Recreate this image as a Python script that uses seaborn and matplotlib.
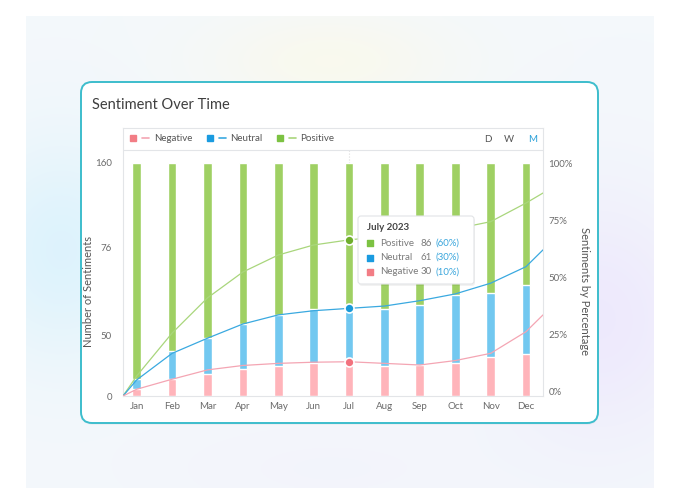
import numpy as np
import pandas as pd
import matplotlib
matplotlib.use("Agg")
import matplotlib.pyplot as plt
import seaborn as sns
from matplotlib.patches import FancyBboxPatch
from matplotlib.lines import Line2D
from matplotlib.legend_handler import HandlerTuple

# ---- data (bar shares in %, lines in % scale) ----
months = ["Jan", "Feb", "Mar", "Apr", "May", "Jun", "Jul", "Aug", "Sep", "Oct", "Nov", "Dec"]
neg_share = [3.0, 7.3, 9.4, 11.5, 13.0, 14.3, 14.6, 13.0, 13.3, 14.0, 16.9, 18.0]
neu_share = [4.3, 12.0, 15.5, 19.3, 21.8, 22.9, 23.2, 24.3, 25.8, 29.3, 27.2, 29.6]
total_share = [100] * 12

# trend lines: value at left edge, Jan..Dec, value at right edge
pos_line = [0, 8.6, 27.0, 42.1, 53.2, 60.5, 64.8, 67.0, 68.5, 70.0, 71.7, 74.8, 82.8, 87.1]
neu_line = [0, 6.9, 18.3, 24.8, 30.9, 34.8, 36.6, 37.6, 38.6, 40.9, 43.8, 48.4, 55.5, 62.7]
neg_line = [0, 2.9, 7.2, 11.2, 13.1, 14.0, 14.5, 14.7, 14.0, 13.3, 15.2, 18.3, 27.6, 34.8]

count_ticks = ["0", "50", "76", "160"]
count_tick_pos = [0, 25.8, 63.9, 100]
pct_ticks = [0, 25, 50, 75, 100]

tip_title = "July 2023"
tip_month = "Jul"
tip_names = ["Positive", "Neutral", "Negative"]
tip_counts = [86, 61, 30]
tip_pcts = [60, 30, 10]

# ---- colours ----
c_pos_bar, c_neu_bar, c_neg_bar = "#9fd063", "#72c8f0", "#ffb4ba"
c_pos_line, c_neu_line, c_neg_line = "#a9d67c", "#3aa9e0", "#f4a5b3"
c_pos_dot, c_neu_dot, c_neg_dot = "#6fae2c", "#1a9ad8", "#f2727e"
c_pos_key, c_neu_key, c_neg_key = "#7cc242", "#1a9be0", "#f27d85"
txt = "#6b6b6b"

sns.set_style("white")
plt.rcParams["font.family"] = ["Lato", "DejaVu Sans"]

W, H = 680, 504
fig = plt.figure(figsize=(6.8, 5.04), dpi=100)
fig.patch.set_facecolor("white")

def fx(px):
    return px / W

def fy(py):
    return 1 - py / H

# background panel with soft glows
bg = fig.add_axes([0, 0, 1, 1], zorder=0)
bg.axis("off")
gx, gy = np.meshgrid(np.linspace(26, 654, 200), np.linspace(16, 488, 160))
img = np.ones((160, 200, 3)) * np.array([0.957, 0.973, 0.985])
for cx, cy, sx, sy, col, a in [(60, 250, 90, 110, (0.86, 0.95, 0.99), 0.9),
                                (330, 60, 120, 50, (0.99, 0.98, 0.90), 0.6),
                                (600, 320, 110, 130, (0.93, 0.91, 0.99), 0.9),
                                (330, 470, 200, 60, (0.95, 0.95, 0.99), 0.6)]:
    w = a * np.exp(-(((gx - cx) / sx) ** 2 + ((gy - cy) / sy) ** 2))
    img = img * (1 - w[..., None]) + np.array(col) * w[..., None]
bg.imshow(img, extent=(26, 654, 488, 16), aspect="auto", interpolation="bilinear")
bg.add_patch(FancyBboxPatch((82, 84), 516, 341, boxstyle="round,pad=0,rounding_size=11",
                            facecolor="#000000", alpha=0.03, edgecolor="none"))
bg.add_patch(FancyBboxPatch((81, 82), 517, 341, boxstyle="round,pad=0,rounding_size=11",
                            facecolor="white", edgecolor="#3dbdcc", linewidth=1.4))
bg.set_xlim(0, W)
bg.set_ylim(H, 0)

fig.text(fx(92), fy(105), "Sentiment Over Time", fontsize=10.5, color="#3f3f3f", va="center")

# ---- main chart ----
ax = fig.add_axes([fx(123), fy(396), 420 / W, 268 / H], zorder=2)
ax.set_facecolor("white")
df = pd.DataFrame({"month": months, "total": total_share,
                   "mid": np.add(neg_share, neu_share), "neg": neg_share})
sns.barplot(data=df, x="month", y="total", color=c_pos_bar, width=0.245, saturation=1, ax=ax)
sns.barplot(data=df, x="month", y="mid", color=c_neu_bar, width=0.245, saturation=1, ax=ax)
sns.barplot(data=df, x="month", y="neg", color=c_neg_bar, width=0.245, saturation=1, ax=ax)

ax.set_xlim(-0.387, 11.48)
ax.set_ylim(0, 115)
xl = ax.get_xlim()
lx = [xl[0]] + list(range(len(months))) + [xl[1]]
ax.plot(lx, pos_line, color=c_pos_line, lw=0.9, zorder=4)
ax.plot(lx, neu_line, color=c_neu_line, lw=0.9, zorder=4)
ax.plot(lx, neg_line, color=c_neg_line, lw=0.9, zorder=4)

ti = months.index(tip_month)
ax.axvline(ti, ymin=0.87, ymax=0.918, color="#dddddd", lw=0.8, ls=":", zorder=0)
for line, col in [(pos_line, c_pos_dot), (neu_line, c_neu_dot), (neg_line, c_neg_dot)]:
    ax.scatter([ti], [line[ti + 1]], s=42, color=col, edgecolor="white", linewidth=1.2, zorder=6)

ax.set_yticks(count_tick_pos)
ax.set_yticklabels(count_ticks)
ax.tick_params(axis="y", length=0, pad=8, labelsize=7, labelcolor=txt)
ax.tick_params(axis="x", length=0, pad=4, labelsize=7, labelcolor=txt)
ax.set_xlabel("")
ax.set_ylabel("Number of Sentiments", fontsize=8, color="#555555")
ax.yaxis.set_label_coords(-0.07, 0.39)
for s in ax.spines.values():
    s.set_color("#e3e5e8")
    s.set_linewidth(0.8)
ax.plot([0, 1], [0.918, 0.918], transform=ax.transAxes, color="#e3e5e8", lw=0.8, zorder=5)

ax2 = ax.twinx()
ax2.set_ylim(-1.75, 115.3)
ax2.set_yticks(pct_ticks)
ax2.set_yticklabels([f"{p}%" for p in pct_ticks])
ax2.tick_params(axis="y", length=0, pad=4, labelsize=7, labelcolor=txt)
ax2.set_ylabel("Sentiments by Percentage", fontsize=8, color="#555555", rotation=270,
               va="center")
ax2.yaxis.set_label_coords(1.098, 0.39)
for s in ax2.spines.values():
    s.set_visible(False)

# legend strip
handles = []
for kc, lc in [(c_neg_key, c_neg_line), (c_neu_key, c_neu_line), (c_pos_key, c_pos_line)]:
    handles.append((Line2D([], [], marker="s", ls="none", color=kc, markersize=5),
                    Line2D([], [], color=lc, lw=1.2)))
ax.legend(handles, ["Negative", "Neutral", "Positive"], ncol=3, frameon=False,
          loc="center left", bbox_to_anchor=(0.0, 0.959), fontsize=7, labelcolor="#555555",
          handler_map={tuple: HandlerTuple(ndivide=None, pad=0.6)}, handlelength=2.0,
          handletextpad=0.5, columnspacing=1.4, borderaxespad=0.3)
for lab, px, col in [("D", 484, "#555555"), ("W", 504, "#555555"), ("M", 528, "#2aa0d8")]:
    fig.text(fx(px), fy(139), lab, fontsize=7, color=col, va="center", ha="left")

# ---- tooltip ----
ov = fig.add_axes([0, 0, 1, 1], zorder=3)
ov.axis("off")
ov.patch.set_alpha(0)
ov.add_patch(FancyBboxPatch((359, 218), 116, 68, boxstyle="round,pad=0,rounding_size=3",
                            facecolor="#000000", alpha=0.05, edgecolor="none"))
ov.add_patch(FancyBboxPatch((358, 216), 116, 68, boxstyle="round,pad=0,rounding_size=3",
                            facecolor="white", edgecolor="#e2e4e6", linewidth=0.8))
ov.set_xlim(0, W)
ov.set_ylim(H, 0)
ov.text(367, 228, tip_title, fontsize=7, color="#444444", va="center", fontweight="bold")
for i, (nm, cnt, pc, kc) in enumerate(zip(tip_names, tip_counts, tip_pcts,
                                          [c_pos_key, c_neu_key, c_neg_key])):
    yy = 243 + i * 14.5
    ov.scatter([370], [yy], marker="s", s=20, color=kc)
    ov.text(380, yy, nm, fontsize=7, color="#7a7a7a", va="center")
    ov.text(432, yy, f"{cnt}", fontsize=7, color="#7a7a7a", va="center", ha="right")
    ov.text(435, yy, f"({pc}%)", fontsize=7, color="#3aa6dc", va="center")

fig.savefig("out.png", dpi=100)
